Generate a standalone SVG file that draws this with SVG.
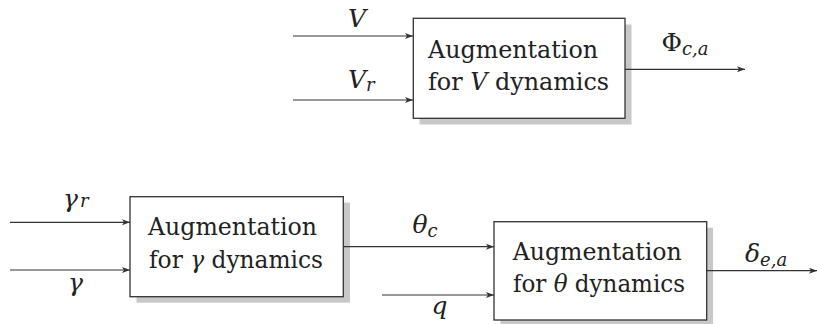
<svg xmlns="http://www.w3.org/2000/svg" width="817" height="324" viewBox="0 0 817 324">
<style>
  .box { fill: #ffffff; stroke: #333333; stroke-width: 1.3; }
  .shadow { fill: #c8c8c8; }
  .wire { fill: none; stroke: #333333; stroke-width: 1.2; marker-end: url(#arr); }
  .btxt { font-family: "DejaVu Serif", serif; font-size: 24px; fill: #222222; }
  .lbl { font-family: "DejaVu Serif", serif; font-size: 25px; font-style: italic; fill: #222222; }
  .sub { font-size: 18px; font-style: italic; }
  .it { font-style: italic; }
  .up { font-style: normal; }
</style>
<defs>
  <marker id="arr" markerUnits="userSpaceOnUse" markerWidth="10" markerHeight="8" refX="8" refY="3" orient="auto">
    <path d="M0,0 L8,3 L0,6 L2,3 z" fill="#333333"/>
  </marker>
</defs>

<g id="node-V">
  <rect class="shadow" x="419.5" y="24.5" width="212" height="100"/>
  <rect class="box" x="413.3" y="18.3" width="211.7" height="100"/>
  <text class="btxt" x="428" y="57.5" textLength="170" lengthAdjust="spacingAndGlyphs">Augmentation</text>
  <text class="btxt" x="428" y="90" textLength="181" lengthAdjust="spacingAndGlyphs">for <tspan class="it">V</tspan> dynamics</text>
</g>

<g id="node-gamma">
  <rect class="shadow" x="136.5" y="202.7" width="213.5" height="100"/>
  <rect class="box" x="130" y="196.7" width="213.3" height="100"/>
  <text class="btxt" x="148" y="235" textLength="169" lengthAdjust="spacingAndGlyphs">Augmentation</text>
  <text class="btxt" x="149" y="267.5" textLength="174" lengthAdjust="spacingAndGlyphs">for <tspan class="it">γ</tspan> dynamics</text>
</g>

<g id="node-theta">
  <rect class="shadow" x="500.5" y="227.7" width="212.5" height="100"/>
  <rect class="box" x="494" y="221.7" width="212.7" height="98.3"/>
  <text class="btxt" x="512.7" y="259.5" textLength="169" lengthAdjust="spacingAndGlyphs">Augmentation</text>
  <text class="btxt" x="513" y="292" textLength="172" lengthAdjust="spacingAndGlyphs">for <tspan class="it">θ</tspan> dynamics</text>
</g>

<g id="connectors">
  <line class="wire" x1="293" y1="36" x2="413" y2="36"/>
  <line class="wire" x1="293" y1="100" x2="413" y2="100"/>
  <line class="wire" x1="625" y1="69.3" x2="745" y2="69.3"/>
  <line class="wire" x1="10" y1="222.3" x2="130" y2="222.3"/>
  <line class="wire" x1="10" y1="270" x2="130" y2="270"/>
  <line class="wire" x1="343.3" y1="246.7" x2="494" y2="246.7"/>
  <line class="wire" x1="382" y1="295" x2="494" y2="295"/>
  <line class="wire" x1="706.7" y1="270.7" x2="817" y2="270.7"/>
</g>

<g id="labels">
  <text class="lbl" x="348" y="26.7">V</text>
  <text class="lbl" x="348" y="88.3">V<tspan class="sub" dy="3">r</tspan></text>
  <text class="lbl" x="661.5" y="51"><tspan class="up">Φ</tspan><tspan class="sub" dy="4">c,a</tspan></text>
  <text class="lbl" x="63" y="207">γ<tspan class="sub" dx="2" dy="0">r</tspan></text>
  <text class="lbl" x="68" y="291">γ</text>
  <text class="lbl" x="412.5" y="233.3">θ<tspan class="sub" dy="4">c</tspan></text>
  <text class="lbl" x="431.5" y="314">q</text>
  <text class="lbl" x="745" y="261.7">δ<tspan class="sub" dy="4">e,a</tspan></text>
</g>
</svg>
